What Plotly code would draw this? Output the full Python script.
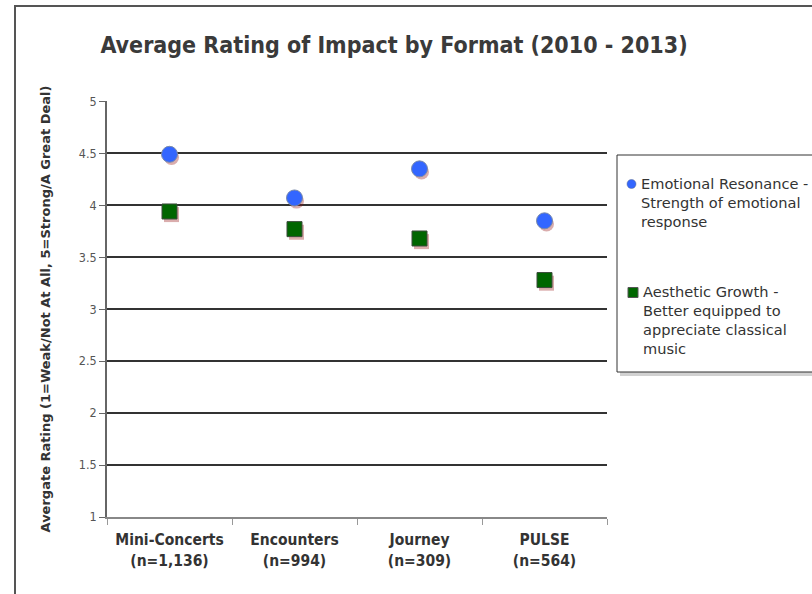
import plotly.graph_objects as go

categories = ["Mini-Concerts<br>(n=1,136)", "Encounters<br>(n=994)", "Journey<br>(n=309)", "PULSE<br>(n=564)"]
emotional = [4.49, 4.07, 4.35, 3.85]
aesthetic = [3.94, 3.77, 3.68, 3.28]
series_names = ["Emotional Resonance -<br>Strength of emotional<br>response",
                "Aesthetic Growth -<br>Better equipped to<br>appreciate classical<br>music"]
y_ticks = [1, 1.5, 2, 2.5, 3, 3.5, 4, 4.5, 5]
y_tick_labels = ["1", "1.5", "2", "2.5", "3", "3.5", "4", "4.5", "5"]

COND = "DejaVu Sans Condensed, DejaVu Sans, sans-serif"
SANS = "DejaVu Sans, sans-serif"
BLUE = "#3366FF"
GREEN = "#006600"

# plot area in pixels: x 107..607, y 101..517
L, R, T, B = 107, 607, 101, 517
def px(X):
    return (X - L) / (R - L)
def py(Y):
    return (B - Y) / (B - T)

fig = go.Figure()

# invisible trace so the visible base axes are built
fig.add_trace(go.Scatter(
    x=categories, y=emotional, mode="markers", marker=dict(opacity=0),
    showlegend=False, hoverinfo="skip"))

# soft shadows (same data on slightly shifted hidden axes)
for vals, sym in [(emotional, "circle"), (aesthetic, "square")]:
    fig.add_trace(go.Scatter(
        x=categories, y=vals, mode="markers", xaxis="x2", yaxis="y2",
        marker=dict(symbol=sym, size=15, color="rgba(150,20,20,0.35)", line=dict(width=0)),
        showlegend=False, hoverinfo="skip"))

# main markers on hidden overlay axes with the true range (drawn above shadows)
fig.add_trace(go.Scatter(
    x=categories, y=emotional, mode="markers", name="Emotional Resonance",
    xaxis="x3", yaxis="y3",
    marker=dict(symbol="circle", size=16, color=BLUE, line=dict(color="#7a8aaa", width=1)),
    showlegend=False))
fig.add_trace(go.Scatter(
    x=categories, y=aesthetic, mode="markers", name="Aesthetic Growth",
    xaxis="x3", yaxis="y3",
    marker=dict(symbol="square", size=15, color=GREEN, line=dict(color="#3a4a3a", width=1)),
    showlegend=False))

shapes = [
    # outer chart frame
    dict(type="rect", xref="paper", yref="paper",
         x0=px(15), x1=px(830), y0=py(610), y1=py(6),
         line=dict(color="#555555", width=2), fillcolor="rgba(0,0,0,0)", layer="below"),
    # legend shadow + box
    dict(type="rect", xref="paper", yref="paper",
         x0=px(620), x1=px(830), y0=py(376), y1=py(158),
         line=dict(width=0), fillcolor="rgba(0,0,0,0.18)", layer="above"),
    dict(type="rect", xref="paper", yref="paper",
         x0=px(617), x1=px(830), y0=py(372), y1=py(155),
         line=dict(color="#333333", width=1), fillcolor="white", layer="above"),
    # legend symbols
    dict(type="circle", xref="paper", yref="paper", xsizemode="pixel", ysizemode="pixel",
         xanchor=px(631.5), yanchor=py(184), x0=-4.5, x1=4.5, y0=-4.5, y1=4.5,
         line=dict(color="#5a6a8a", width=0.5), fillcolor=BLUE, layer="above"),
    dict(type="rect", xref="paper", yref="paper", xsizemode="pixel", ysizemode="pixel",
         xanchor=px(633), yanchor=py(292.5), x0=-5, x1=5, y0=-5, y1=5,
         line=dict(color="#555555", width=1), fillcolor=GREEN, layer="above"),
]

annotations = [
    dict(text=series_names[0], xref="paper", yref="paper", x=px(639), y=py(173),
         xanchor="left", yanchor="top", align="left", showarrow=False,
         font=dict(size=14.6, color="#333333", family=SANS)),
    dict(text=series_names[1], xref="paper", yref="paper", x=px(641), y=py(281),
         xanchor="left", yanchor="top", align="left", showarrow=False,
         font=dict(size=14.6, color="#333333", family=SANS)),
]

YR = [1, 5.003]
XR = [-0.5, 3.5]

fig.update_layout(
    width=812, height=594,
    margin=dict(l=L, r=812 - R, t=T, b=594 - B),
    paper_bgcolor="white", plot_bgcolor="white",
    font=dict(family=COND, color="#333333"),
    title=dict(text="Average Rating of Impact by Format (2010 - 2013)",
               x=394 / 812, xanchor="center", y=1 - 45 / 594, yanchor="middle",
               font=dict(size=23, color="#3a3a3a", family=COND, weight="bold")),
    xaxis=dict(type="category", range=XR, categoryorder="array", categoryarray=categories,
               showgrid=False,
               showline=True, linecolor="#888888", linewidth=1.5,
               ticks="outside", tickson="boundaries", ticklen=6, tickcolor="#999999",
               ticklabelstandoff=8,
               tickfont=dict(size=15.5, color="#333333", family=COND, weight="bold"),
               ),
    yaxis=dict(range=YR, tickvals=y_ticks, ticktext=y_tick_labels,
               showgrid=True, gridcolor="#333333", gridwidth=1.5,
               showline=True, linecolor="#666666", linewidth=1.5,
               ticks="outside", ticklen=6, tickcolor="#666666",
               tickfont=dict(size=12.5, color="#555555", family=COND),
               zeroline=False,
               title=dict(text="Avergate Rating (1=Weak/Not At All, 5=Strong/A Great Deal)",
                          font=dict(size=13, color="#333333", family=SANS, weight="bold"),
                          standoff=25)),
    xaxis2=dict(type="category", range=[XR[0] - 0.016, XR[1] - 0.016], overlaying="x",
                categoryorder="array", categoryarray=categories, visible=False),
    yaxis2=dict(range=[YR[0] + 0.03, YR[1] + 0.03], overlaying="y", visible=False),
    xaxis3=dict(type="category", range=XR, overlaying="x",
                categoryorder="array", categoryarray=categories, visible=False),
    yaxis3=dict(range=YR, overlaying="y", visible=False),
    shapes=shapes,
    annotations=annotations,
)

fig.write_html("out.html", config={"displayModeBar": False},
               post_script="document.body.style.margin='0';")
